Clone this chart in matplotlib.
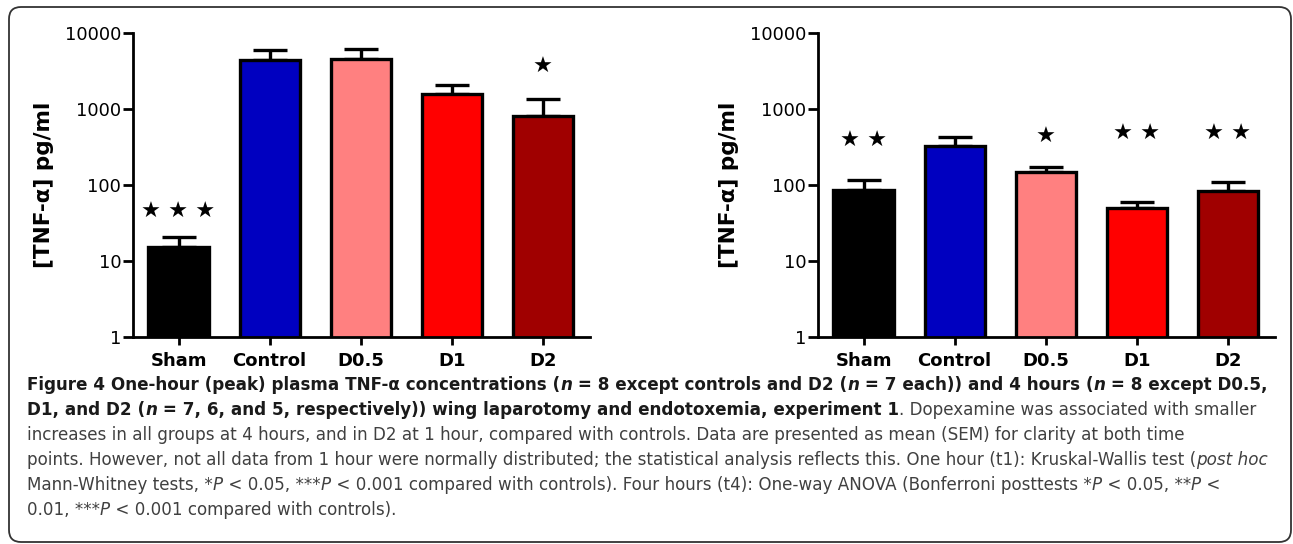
import matplotlib
matplotlib.use('Agg')
import matplotlib.pyplot as plt
from matplotlib.patches import FancyBboxPatch
import numpy as np

grupos = ['Sham', 'Control', 'D0.5', 'D1', 'D2']
colores = ['#000000', '#0000c0', '#ff8080', '#ff0000', '#a00000']

# 1 hora (panel izquierdo): media y extremo superior de la barra de error (SEM)
media_t1 = [15.3, 4410, 4550, 1575, 809]
sup_t1 = [20.7, 5970, 6160, 2070, 1350]
# 4 horas (panel derecho)
media_t4 = [86, 326, 148, 50, 83]
sup_t4 = [116, 428, 173, 60, 109]

# significancia vs controles
estrellas_t1 = ['★ ★ ★', '', '', '', '★']
y_estrellas_t1 = [44, None, None, None, 3560]
estrellas_t4 = ['★ ★', '', '★', '★ ★', '★ ★']
y_estrellas_t4 = [380, None, 428, 468, 468]

ticks_y = [1, 10, 100, 1000, 10000]
etiq_y = ['1', '10', '100', '1000', '10000']

W, H = 1293, 544
fig = plt.figure(figsize=(W / 100, H / 100), dpi=100)


def panel(ax, medias, sups, estrellas, y_est):
    x = np.arange(len(grupos))
    medias = np.array(medias)
    err = np.array(sups) - medias
    ax.errorbar(x, medias, yerr=[np.zeros_like(err), err], fmt='none',
                ecolor='black', elinewidth=2.4, capsize=12, capthick=2.4,
                zorder=1)
    ax.bar(x, medias, width=0.66, color=colores, edgecolor='black',
           linewidth=2.4, zorder=2)
    ax.set_yscale('log')
    ax.set_ylim(1, 10000)
    ax.set_xlim(-0.5, 4.52)
    ax.set_yticks(ticks_y)
    ax.set_yticklabels(etiq_y)
    ax.yaxis.set_minor_locator(matplotlib.ticker.NullLocator())
    ax.set_xticks(x)
    ax.set_xticklabels(grupos, fontweight='bold', fontsize=13)
    for s in ['top', 'right']:
        ax.spines[s].set_visible(False)
    for s in ['left', 'bottom']:
        ax.spines[s].set_linewidth(2.0)
    ax.tick_params(axis='y', length=7, width=2.0, pad=1.5, labelsize=13)
    ax.tick_params(axis='x', length=5.8, width=2.0, pad=5)
    ax.set_ylabel('[TNF-α] pg/ml', fontsize=15.5, fontweight='bold')
    ax.yaxis.set_label_coords(-0.173, 0.5)
    for xi, s, ye in zip(x, estrellas, y_est):
        if s:
            ax.text(xi, ye, s, ha='center', va='center', fontsize=16,
                    family='DejaVu Sans')


ax1 = fig.add_axes([133 / W, (H - 337) / H, 457 / W, 304 / H])
panel(ax1, media_t1, sup_t1, estrellas_t1, y_estrellas_t1)
ax2 = fig.add_axes([818 / W, (H - 337) / H, 457 / W, 304 / H])
panel(ax2, media_t4, sup_t4, estrellas_t4, y_estrellas_t4)

# marco redondeado
marco = FancyBboxPatch((9, 2), 1282, 535, boxstyle='round,pad=0,rounding_size=12',
                       transform=None, fill=False, edgecolor='#333333',
                       linewidth=1.3)
fig.patches.append(marco)

# leyenda de la figura, tramo por tramo
B, BI, R, I = 'b', 'bi', 'r', 'i'
lineas = [
    [('Figure 4 One-hour (peak) plasma TNF-α concentrations (', B), ('n', BI),
     (' = 8 except controls and D2 (', B), ('n', BI), (' = 7 each)) and 4 hours (', B),
     ('n', BI), (' = 8 except D0.5,', B)],
    [('D1, and D2 (', B), ('n', BI),
     (' = 7, 6, and 5, respectively)) wing laparotomy and endotoxemia, experiment 1', B),
     ('. Dopexamine was associated with smaller', R)],
    [('increases in all groups at 4 hours, and in D2 at 1 hour, compared with controls. '
      'Data are presented as mean (SEM) for clarity at both time', R)],
    [('points. However, not all data from 1 hour were normally distributed; the statistical '
      'analysis reflects this. One hour (t1): Kruskal-Wallis test (', R), ('post hoc', I)],
    [('Mann-Whitney tests, *', R), ('P', I), (' < 0.05, ***', R), ('P', I),
     (' < 0.001 compared with controls). Four hours (t4): One-way ANOVA (Bonferroni posttests *', R),
     ('P', I), (' < 0.05, **', R), ('P', I), (' <', R)],
    [('0.01, ***', R), ('P', I), (' < 0.001 compared with controls).', R)],
]
base_y = [390, 415, 440, 465, 490, 515]
estilos = {
    'b': dict(fontweight='bold', fontstyle='normal', color='#1a1a1a'),
    'bi': dict(fontweight='bold', fontstyle='oblique', color='#1a1a1a'),
    'r': dict(fontweight='normal', fontstyle='normal', color='#404040'),
    'i': dict(fontweight='normal', fontstyle='oblique', color='#404040'),
}
rend = fig.canvas.get_renderer()
for segs, yb in zip(lineas, base_y):
    xp = 27
    for txt, est in segs:
        t = fig.text(xp / W, 1 - yb / H, txt, va='baseline', ha='left',
                     family='DejaVu Sans', fontsize=12.1, **estilos[est])
        xp += t.get_window_extent(renderer=rend).width

fig.savefig('out.png', dpi=100)
